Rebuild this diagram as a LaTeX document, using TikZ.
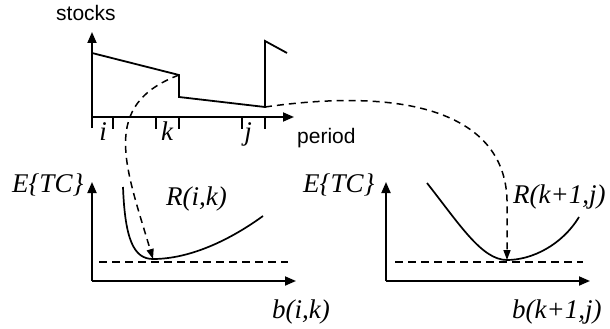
\documentclass[tikz,border=0pt]{standalone}
\usepackage{fontspec}
\setmainfont{Liberation Serif}
\setsansfont{Liberation Sans}
\usetikzlibrary{arrows.meta}
\tikzset{
  axis/.style={line width=1.8pt, -{Triangle[length=11pt, width=9pt]}},
  tick/.style={line width=1.5pt},
  stock/.style={line width=1.8pt, line join=miter},
  cost/.style={line width=1.7pt},
  level/.style={line width=1.6pt, dash pattern=on 8pt off 5pt},
  link/.style={line width=1.5pt, dash pattern=on 7pt off 5pt, -{Triangle[length=10pt, width=7pt]}},
  word/.style={font=\sffamily\fontsize{21}{23}\selectfont, inner sep=0pt, anchor=base west},
  lbl/.style={font=\itshape\fontsize{27}{29}\selectfont, inner sep=0pt, anchor=base west},
  idx/.style={font=\itshape\fontsize{27}{29}\selectfont, inner sep=0pt, anchor=base}
}

\begin{document}
\begin{tikzpicture}[x=1pt, y=-1pt]
  \useasboundingbox (0,0) rectangle (610,329);

  % stocks over the periods
  \draw[axis] (92,128) -- (92,32);
  \draw[axis] (92,117) -- (294,117);
  \foreach \x in {113,156,179,242,265}
    \draw[tick] (\x,117) -- (\x,129);
  \node[word] (stocks) at (56,21) {stocks};
  \node[word] (period) at (297,143) {period};
  \node[idx] (ti) at (103,140) {i};
  \node[idx] (tk) at (167,140) {k};
  \node[idx] (tj) at (248,140) {j};

  \coordinate (kdrop) at (179,75);
  \coordinate (jlow) at (265,107);
  \draw[stock] (92,53) -- (kdrop) -- (179,97) -- (jlow) -- (265,41) -- (287,53);

  % cost over b(i,k)
  \draw[axis] (92,281) -- (92,182);
  \draw[axis] (92,281) -- (296,281);
  \draw[level] (99,262) -- (288,262);
  \coordinate (minL) at (153,259);
  \draw[cost] (123,187) .. controls (125,240) and (134,259) .. (minL)
    .. controls (190,259) and (230,240) .. (263,216);
  \node[lbl] (etcL) at (12,192) {E\{TC\}};
  \node[lbl] (rik) at (166,205) {R(i,k)};
  \node[lbl] (bik) at (272,318) {b(i,k)};

  % cost over b(k+1,j)
  \draw[axis] (386,281) -- (386,182);
  \draw[axis] (386,281) -- (590,281);
  \draw[level] (395,262) -- (583,262);
  \coordinate (minR) at (507,260);
  \draw[cost] (427,183) .. controls (460,225) and (482,260) .. (minR)
    .. controls (532,260) and (562,245) .. (579,217);
  \node[lbl] (etcR) at (303,192) {E\{TC\}};
  \node[lbl] (rkj) at (513,203) {R(k+1,j)};
  \node[lbl] (bkj) at (512,318) {b(k+1,j)};

  % links
  \draw[link] (kdrop) .. controls (100,105) and (125,165) .. (minL);
  \draw[link] (jlow) .. controls (420,85) and (505,120) .. (507,200) -- (minR);
\end{tikzpicture}
\end{document}
